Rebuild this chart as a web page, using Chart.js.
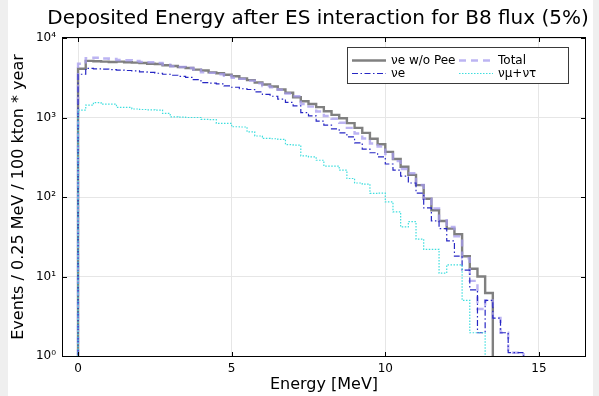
<!DOCTYPE html>
<html>
<head>
<meta charset="utf-8">
<script src="https://cdn.jsdelivr.net/npm/chart.js@4/dist/chart.umd.min.js"></script>
<style>
  html, body { margin: 0; padding: 0; background: #ffffff; }
  #wrap { width: 599px; height: 396px; }
</style>
</head>
<body>
<div id="wrap"><canvas id="c" width="599" height="396"></canvas></div>
<script>
// Left edges of the 0.25 MeV energy bins
const binWidth = 0.25;
const binEdges = [
  0.00, 0.25, 0.50, 0.75, 1.00, 1.25, 1.50, 1.75, 2.00, 2.25,
  2.50, 2.75, 3.00, 3.25, 3.50, 3.75, 4.00, 4.25, 4.50, 4.75,
  5.00, 5.25, 5.50, 5.75, 6.00, 6.25, 6.50, 6.75, 7.00, 7.25,
  7.50, 7.75, 8.00, 8.25, 8.50, 8.75, 9.00, 9.25, 9.50, 9.75,
  10.00, 10.25, 10.50, 10.75, 11.00, 11.25, 11.50, 11.75, 12.00, 12.25,
  12.50, 12.75, 13.00, 13.25, 13.50, 13.75, 14.00, 14.25
];

// Events per bin, one array per channel
const nueNoPee = [
  4100, 5150, 5100, 5050, 5000, 5050, 4950, 4900, 4850, 4750,
  4700, 4550, 4450, 4300, 4200, 4000, 3900, 3700, 3600, 3450,
  3300, 3100, 2950, 2750, 2600, 2450, 2250, 2050, 1800, 1600,
  1480, 1350, 1200, 1080, 980, 850, 740, 640, 540, 460,
  370, 300, 240, 190, 141, 95, 68, 50, 40, 34,
  18, 12.5, 10, 6.2, 0, 0, 0, 0
];
const totalES = [
  4740, 5580, 5640, 5520, 5470, 5290, 5240, 5130, 5010, 4950,
  4840, 4625, 4420, 4310, 4200, 4000, 3695, 3640, 3495, 3345,
  3165, 3060, 2910, 2685, 2495, 2390, 2230, 2005, 1850, 1480,
  1370, 1190, 1045, 965, 858, 741, 630, 545, 471, 432,
  347, 283, 225, 199, 141.5, 95, 72, 51, 42, 32,
  17, 8.8, 3.9, 5, 3, 1.96, 1.1, 1.1
];
const nue = [
  3500, 4150, 4100, 4050, 4000, 3950, 3900, 3850, 3750, 3700,
  3600, 3500, 3400, 3300, 3200, 3000, 2750, 2700, 2650, 2500,
  2400, 2300, 2250, 2100, 1950, 1850, 1700, 1550, 1400, 1150,
  1050, 900, 800, 720, 640, 570, 480, 400, 360, 320,
  260, 218, 183, 150, 112, 73, 50, 40, 28, 18,
  12, 6.8, 1.96, 5, 3, 1.96, 1.1, 1.1
];
const numutau = [
  1240, 1430, 1540, 1470, 1470, 1340, 1340, 1280, 1260, 1250,
  1240, 1125, 1020, 1010, 1000, 1000, 945, 940, 845, 845,
  765, 760, 660, 585, 545, 540, 530, 455, 450, 330,
  320, 290, 245, 245, 218, 171, 150, 145, 111, 112,
  87, 65, 42, 49, 29.5, 22, 22, 11, 14, 14,
  5, 1.96, 1.96, 0, 0, 0, 0, 0
];

const seriesLabels = ['νe w/o Pee', 'Total', 'νe', 'νμ+ντ'];
const xTicks = [0, 5, 10, 15];
const yTicks = [1, 10, 100, 1000, 10000];
const yTickLabels = ['10⁰', '10¹', '10²', '10³', '10⁴'];

// Empty bins sit below the log axis so the outline drops to the frame
const FLOOR = 0.5;

// Step outline: rises at the first edge, one point per bin, falls after the last filled bin
function histPoints(vals) {
  let last = vals.length - 1;
  while (last >= 0 && vals[last] === 0) last--;
  const pts = [{ x: binEdges[0], y: FLOOR }];
  for (let i = 0; i <= last; i++) {
    pts.push({ x: binEdges[i], y: vals[i] > 0 ? vals[i] : FLOOR });
  }
  pts.push({ x: binEdges[last] + binWidth, y: FLOOR });
  return pts;
}

const FONT = "'DejaVu Sans', 'Liberation Sans', sans-serif";
Chart.defaults.font.family = FONT;
Chart.defaults.color = '#000000';

const bgPlugin = {
  id: 'pageBg',
  beforeDraw(chart) {
    const { ctx, width, height } = chart;
    ctx.save();
    ctx.fillStyle = '#efefef';
    ctx.fillRect(0, 0, width, height);
    ctx.fillStyle = '#ffffff';
    ctx.fillRect(8, 0, width - 14, height);
    ctx.restore();
  }
};

const framePlugin = {
  id: 'frameBox',
  afterDatasetsDraw(chart) {
    const { ctx, chartArea: a, scales } = chart;
    ctx.save();
    ctx.strokeStyle = '#000000';
    ctx.lineWidth = 1;
    ctx.strokeRect(a.left - 0.5, a.top - 0.5, a.width + 1, a.height + 1);
    const len = 4;
    ctx.beginPath();
    xTicks.forEach(v => {
      const px = Math.round(scales.x.getPixelForValue(v)) + 0.5;
      ctx.moveTo(px, a.bottom); ctx.lineTo(px, a.bottom - len);
      ctx.moveTo(px, a.top); ctx.lineTo(px, a.top + len);
    });
    yTicks.forEach(v => {
      const py = Math.round(scales.y.getPixelForValue(v)) + 0.5;
      ctx.moveTo(a.left, py); ctx.lineTo(a.left + len, py);
      ctx.moveTo(a.right, py); ctx.lineTo(a.right - len, py);
    });
    ctx.stroke();
    ctx.restore();
  }
};

const titlePlugin = {
  id: 'plotTitle',
  afterDraw(chart) {
    const { ctx } = chart;
    ctx.save();
    ctx.fillStyle = '#000000';
    ctx.font = '20px ' + FONT;
    ctx.textAlign = 'center';
    ctx.textBaseline = 'middle';
    ctx.fillText('Deposited Energy after ES interaction for B8 flux (5%)', 318, 19);
    ctx.restore();
  }
};

// Two-column legend box in the upper right of the plot
const legendPlugin = {
  id: 'boxLegend',
  afterDraw(chart) {
    const { ctx } = chart;
    const box = { x: 347.5, y: 47.5, w: 221, h: 36 };
    const cols = [352, 459];
    const rows = [60.5, 73.5];
    const lineLen = 34;
    ctx.save();
    ctx.fillStyle = '#ffffff';
    ctx.fillRect(box.x, box.y, box.w, box.h);
    ctx.strokeStyle = '#3a3a3a';
    ctx.lineWidth = 1;
    ctx.strokeRect(box.x, box.y, box.w, box.h);
    ctx.font = '12px ' + FONT;
    ctx.textBaseline = 'middle';
    ctx.textAlign = 'left';
    chart.data.datasets.forEach((ds, i) => {
      const cx = cols[i % 2];
      const cy = rows[Math.floor(i / 2)];
      ctx.save();
      ctx.strokeStyle = ds.borderColor;
      ctx.lineWidth = ds.borderWidth;
      ctx.setLineDash(ds.borderDash || []);
      ctx.beginPath();
      ctx.moveTo(cx, cy);
      ctx.lineTo(cx + lineLen, cy);
      ctx.stroke();
      ctx.restore();
      ctx.fillStyle = '#000000';
      ctx.fillText(ds.label, cx + lineLen + 5, cy + 0.5);
    });
    ctx.restore();
  }
};

const stepLine = { stepped: 'before', tension: 0, fill: false, pointRadius: 0 };

new Chart(document.getElementById('c'), {
  type: 'line',
  data: {
    datasets: [
      Object.assign({ label: seriesLabels[0], data: histPoints(nueNoPee),
        borderColor: '#808080', borderWidth: 2.4, order: 4 }, stepLine),
      Object.assign({ label: seriesLabels[1], data: histPoints(totalES),
        borderColor: 'rgba(165,155,238,0.75)', borderWidth: 2.4, borderDash: [7, 5], order: 3 }, stepLine),
      Object.assign({ label: seriesLabels[2], data: histPoints(nue),
        borderColor: '#2727c4', borderWidth: 1.2, borderDash: [6, 2.5, 1.5, 2.5], order: 2 }, stepLine),
      Object.assign({ label: seriesLabels[3], data: histPoints(numutau),
        borderColor: '#3edede', borderWidth: 1.2, borderDash: [1.5, 1.5], order: 1 }, stepLine)
    ]
  },
  options: {
    responsive: false,
    animation: false,
    devicePixelRatio: 1,
    layout: { padding: { top: 38, right: 14, bottom: 0, left: 0 } },
    plugins: {
      legend: { display: false },
      tooltip: { enabled: false },
      title: { display: false }
    },
    scales: {
      x: {
        type: 'linear',
        min: -0.49,
        max: 16.5,
        afterBuildTicks: s => { s.ticks = xTicks.map(v => ({ value: v })); },
        afterFit: s => { s.height = 40; },
        grid: { color: '#e6e6e6', lineWidth: 1, drawTicks: false },
        border: { display: false },
        ticks: { padding: 6, font: { size: 12 }, maxRotation: 0, color: '#000',
                 callback: v => String(v) },
        title: { display: true, text: 'Energy [MeV]', font: { size: 16 }, color: '#000',
                 padding: { top: 0, bottom: 2 } }
      },
      y: {
        type: 'logarithmic',
        min: 1,
        max: 10000,
        afterBuildTicks: s => { s.ticks = yTicks.map(v => ({ value: v })); },
        afterFit: s => { s.width = 63; },
        grid: { color: '#e6e6e6', lineWidth: 1, drawTicks: false },
        border: { display: false },
        ticks: { padding: 7, font: { size: 12 }, color: '#000',
                 callback: v => { const i = yTicks.indexOf(v); return i >= 0 ? yTickLabels[i] : ''; } },
        title: { display: true, text: 'Events / 0.25 MeV / 100 kton * year', font: { size: 16 },
                 color: '#000', padding: { top: 9, bottom: 0 } }
      }
    }
  },
  plugins: [bgPlugin, framePlugin, titlePlugin, legendPlugin]
});
</script>
</body>
</html>
